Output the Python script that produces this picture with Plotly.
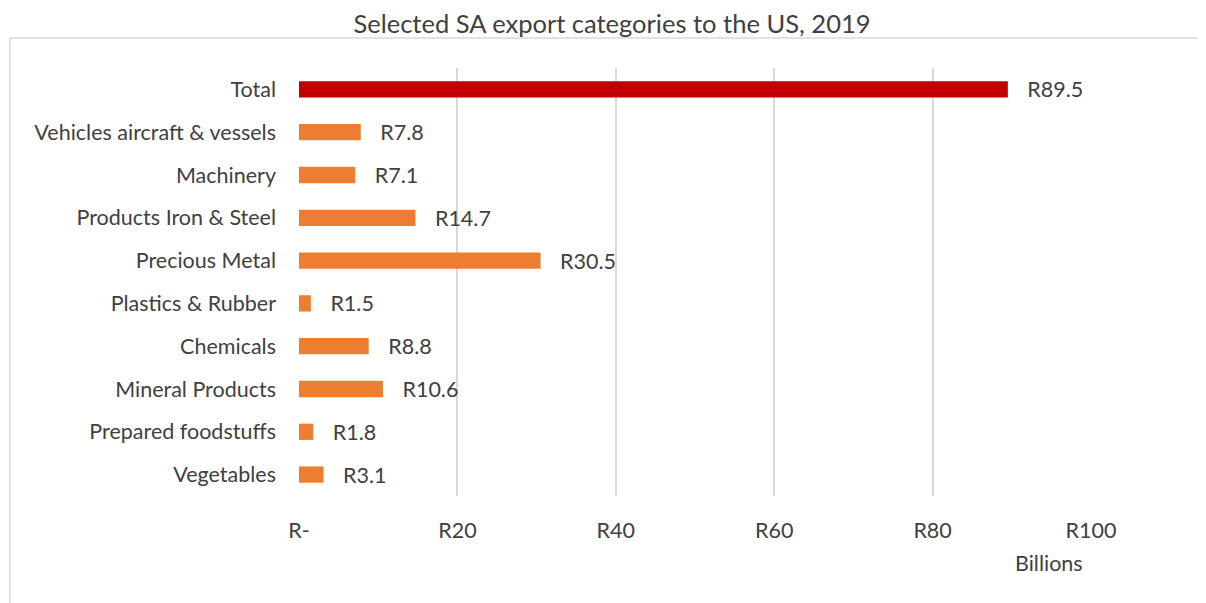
import plotly.graph_objects as go

categories = ["Total", "Vehicles aircraft & vessels", "Machinery", "Products Iron & Steel",
              "Precious Metal", "Plastics & Rubber", "Chemicals", "Mineral Products",
              "Prepared foodstuffs", "Vegetables"]
values = [89.5, 7.8, 7.1, 14.7, 30.5, 1.5, 8.8, 10.6, 1.8, 3.1]
tick_vals = [0, 20, 40, 60, 80, 100]
tick_text = ["R-", "R20", "R40", "R60", "R80", "R100"]

colors = ["#C00000" if c == "Total" else "#ED7D31" for c in categories]
labels = ["\u00a0\u00a0\u00a0R" + f"{v:.1f}" for v in values]

FONT = "Lato, Open Sans, sans-serif"
TXT = "#404040"
FS = 21.5

# page body has an 8px offset; margins compensate so the plot area sits at x 299-1091, y 68-496
fig = go.Figure(go.Bar(
    y=categories, x=values, orientation="h",
    marker=dict(color=colors, line=dict(width=0)),
    text=labels, textposition="outside", cliponaxis=False, constraintext="none",
    textfont=dict(family=FONT, size=FS, color=TXT),
))

fig.update_layout(
    width=1206, height=603,
    margin=dict(l=291, r=123, t=60, b=115),
    paper_bgcolor="white", plot_bgcolor="white",
    bargap=0.62,
    showlegend=False,
    font=dict(family=FONT, size=FS, color=TXT),
    title=dict(text="Selected SA export categories to the US, 2019",
               x=(612 - 8) / 1206, xanchor="center", y=1 - (24 - 8) / 603, yanchor="middle",
               font=dict(family=FONT, size=25.5, color=TXT)),
    xaxis=dict(range=[0, 100], tickvals=tick_vals, ticktext=tick_text,
               showgrid=True, gridcolor="#D9D9D9", gridwidth=1.5,
               zeroline=False, showline=False, ticklabelstandoff=19,
               tickfont=dict(family=FONT, size=FS, color=TXT)),
    yaxis=dict(categoryorder="array", categoryarray=categories[::-1],
               showgrid=False, zeroline=False, showline=False,
               ticklabelstandoff=22,
               tickfont=dict(family=FONT, size=FS, color=TXT)),
    annotations=[dict(text="Billions", xref="paper", yref="paper",
                      x=(1049 - 299) / 792, y=(496 - 563) / 428,
                      xanchor="center", yanchor="middle", showarrow=False,
                      font=dict(family=FONT, size=FS, color=TXT))],
    shapes=[dict(type="rect", xref="paper", yref="paper",
                 x0=(10 - 299) / 792, x1=(1215 - 299) / 792,
                 y0=(496 - 615) / 428, y1=1 + 30 / 428,
                 line=dict(color="#D9D9D9", width=1.5), fillcolor="rgba(0,0,0,0)",
                 layer="below")],
)

fig.write_html("out.html")
